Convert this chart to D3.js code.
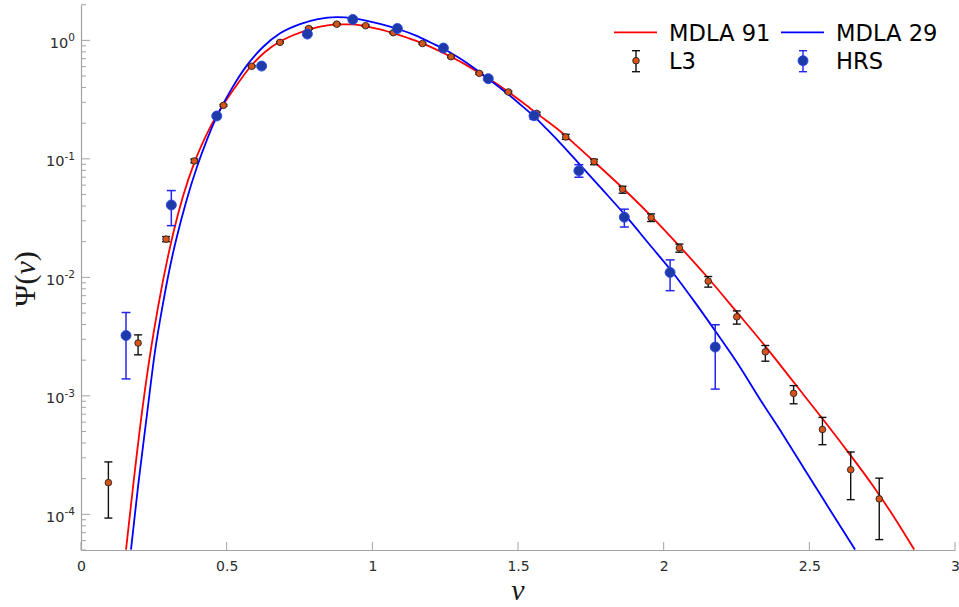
<!DOCTYPE html>
<html>
<head>
<meta charset="utf-8">
<script src="https://cdn.jsdelivr.net/npm/d3@7/dist/d3.min.js"></script>
<style>
  html, body { margin: 0; padding: 0; background: #fff; }
  svg { display: block; }
</style>
</head>
<body>
<svg id="chart" width="959" height="607"></svg>
<script>
// ---------------- data ----------------
const mdla91Nu  = [0.1545,0.1785,0.2104,0.2344,0.2653,0.2986,0.3168,0.3501,0.3890,0.4359,0.4884,0.532,0.5801,0.6316,0.6833,0.73,0.786,0.83,0.878,0.93,0.977,1.026,1.08,1.125,1.172,1.22,1.27,1.32,1.37,1.42,1.467,1.515,1.564,1.644,1.70,1.759,1.85,1.953,2.05,2.148,2.25,2.354,2.45,2.548,2.63,2.72,2.79,2.86];
const mdla91Psi = [5.04e-5,1.70e-4,7.66e-4,2.01e-3,5.77e-3,0.01503,0.02366,0.0483,0.0929,0.170,0.286,0.411,0.593,0.798,0.977,1.109,1.239,1.318,1.365,1.365,1.312,1.239,1.135,1.042,0.944,0.836,0.728,0.624,0.525,0.440,0.366,0.300,0.242,0.172,0.130,0.0959,0.0596,0.0337,0.0188,0.01016,0.00513,0.00253,0.00127,6.28e-4,3.43e-4,1.72e-4,9.55e-5,5.04e-5];

const mdla29Nu  = [0.1716,0.1957,0.2276,0.2523,0.2825,0.3124,0.3295,0.3604,0.3982,0.4325,0.4658,0.5149,0.5688,0.6247,0.6833,0.7517,0.8135,0.8777,0.9405,1.0263,1.0857,1.15,1.20,1.244,1.30,1.35,1.398,1.45,1.50,1.555,1.60,1.65,1.713,1.79,1.873,1.95,2.033,2.11,2.182,2.26,2.331,2.41,2.491,2.57,2.657];
const mdla29Psi = [5.04e-5,1.71e-4,7.34e-4,2.22e-3,6.21e-3,0.01469,0.0222,0.0431,0.0857,0.1455,0.227,0.382,0.612,0.879,1.146,1.371,1.514,1.570,1.528,1.380,1.253,1.096,0.959,0.851,0.705,0.581,0.474,0.378,0.299,0.228,0.177,0.132,0.0891,0.0550,0.0324,0.0191,0.01084,0.00603,0.00339,0.00178,9.33e-4,4.68e-4,2.24e-4,1.10e-4,5.04e-5];

const l3Nu   = [0.094,0.196,0.292,0.389,0.489,0.586,0.683,0.782,0.878,0.977,1.072,1.172,1.270,1.367,1.467,1.564,1.664,1.761,1.859,1.957,2.054,2.153,2.251,2.349,2.446,2.545,2.642,2.740];
const l3Psi  = [1.85e-4,2.79e-3,0.0210,0.0960,0.283,0.604,0.962,1.26,1.37,1.33,1.16,0.940,0.727,0.527,0.367,0.242,0.153,0.0947,0.0554,0.0319,0.0177,0.00929,0.00464,0.00235,1.05e-3,5.20e-4,2.38e-4,1.35e-4];
const l3Low  = [9.3e-5,2.22e-3,0.0200,0.0925,0.278,0.594,0.947,1.24,1.35,1.31,1.14,0.925,0.715,0.518,0.360,0.236,0.146,0.0893,0.0513,0.0296,0.0163,0.00827,0.00403,1.96e-3,8.57e-4,3.87e-4,1.33e-4,6.12e-5];
const l3High = [2.77e-4,3.27e-3,0.0221,0.0997,0.288,0.614,0.977,1.28,1.39,1.35,1.18,0.955,0.739,0.536,0.374,0.248,0.161,0.0993,0.0587,0.0343,0.0191,0.01016,0.00521,2.66e-3,1.22e-3,6.58e-4,3.36e-4,2.02e-4];

const hrsNu   = [0.1545,0.310,0.466,0.620,0.777,0.933,1.086,1.244,1.398,1.555,1.709,1.865,2.022,2.177];
const hrsPsi  = [3.23e-3,0.0408,0.230,0.607,1.13,1.50,1.26,0.861,0.475,0.231,0.0795,0.0322,0.0110,2.58e-3];
const hrsLow  = [1.39e-3,0.0273,0.224,0.595,1.11,1.47,1.235,0.845,0.463,0.216,0.0700,0.0266,0.00772,1.14e-3];
const hrsHigh = [5.05e-3,0.0540,0.236,0.619,1.15,1.53,1.285,0.877,0.487,0.246,0.0893,0.0376,0.01404,3.98e-3];

const xTicks = [0, 0.5, 1, 1.5, 2, 2.5, 3];
const xTickLabels = ["0", "0.5", "1", "1.5", "2", "2.5", "3"];
const yMajor = [1e-4, 1e-3, 1e-2, 1e-1, 1];
const yExponents = ["-4", "-3", "-2", "-1", "0"];
const legendNames = ["MDLA 91", "MDLA 29", "L3", "HRS"];

// ---------------- layout ----------------
const svg = d3.select("#chart");
const L = 81, R = 955, T = 4.7, B = 550;
const x = d3.scaleLinear().domain([0, 3]).range([L, R]);
const y = d3.scaleLog().domain([5e-5, 2]).range([B, T]);

const axisColor = "#a3a3a3";
const labelColor = "#2b2b2b";
const RED = "#ff0000", BLUE = "#0000ff";
const L3_FILL = "#d95319", HRS_FILL = "#1d3aa8", HRS_BAR = "#2424f0";

svg.append("defs").append("clipPath").attr("id", "plotclip")
  .append("rect").attr("x", L).attr("y", T).attr("width", R - L).attr("height", B - T);

// ---------------- axes ----------------
const xAxis = d3.axisBottom(x).tickValues(xTicks).tickSize(0).tickFormat((d, i) => xTickLabels[i]);
const gx = svg.append("g").attr("transform", `translate(0,${B})`).call(xAxis);
gx.select(".domain").attr("stroke", axisColor).attr("stroke-width", 1.2);
gx.selectAll(".tick text").attr("fill", labelColor).attr("font-family", "DejaVu Sans")
  .attr("font-size", 14).attr("dy", 0).attr("y", 21);
// inward x ticks
svg.append("g").selectAll("line").data(xTicks).join("line")
  .attr("x1", d => x(d)).attr("x2", d => x(d)).attr("y1", B).attr("y2", B - 8)
  .attr("stroke", axisColor).attr("stroke-width", 1);

// y axis spine
const yAxis = d3.axisLeft(y).tickValues([]).tickSize(0);
const gy = svg.append("g").attr("transform", `translate(${L},0)`).call(yAxis);
gy.select(".domain").attr("stroke", axisColor).attr("stroke-width", 1.2);

// minor + major log ticks (inward)
const minor = [];
for (let e = -5; e <= 0; e++) for (let m = 2; m <= 9; m++) {
  const v = m * Math.pow(10, e);
  if (v >= 5e-5 * 0.999 && v <= 2.0001) minor.push(v);
}
svg.append("g").selectAll("line").data(minor).join("line")
  .attr("x1", L).attr("x2", L + 5).attr("y1", d => y(d)).attr("y2", d => y(d))
  .attr("stroke", axisColor).attr("stroke-width", 1);
svg.append("g").selectAll("line").data(yMajor).join("line")
  .attr("x1", L).attr("x2", L + 9).attr("y1", d => y(d)).attr("y2", d => y(d))
  .attr("stroke", axisColor).attr("stroke-width", 1);

const yl = svg.append("g").selectAll("text").data(yMajor).join("text")
  .attr("x", L - 6).attr("y", d => y(d) + 7.5)
  .attr("text-anchor", "end").attr("fill", labelColor)
  .attr("font-family", "DejaVu Sans").attr("font-size", 14.5);
yl.append("tspan").text("10");
yl.append("tspan").attr("font-size", 10.5).attr("dy", -6.5).text((d, i) => yExponents[i]);

// axis titles
svg.append("text").attr("transform", "translate(35,279) rotate(-90)")
  .attr("text-anchor", "middle").attr("font-family", "Liberation Serif").attr("font-size", 30)
  .attr("fill", "#1a1a1a")
  .call(t => {
    t.append("tspan").text("Ψ(");
    t.append("tspan").attr("font-style", "italic").text("ν");
    t.append("tspan").text(")");
  });
svg.append("text").attr("x", x(1.5)).attr("y", 600).attr("text-anchor", "middle")
  .attr("font-family", "Liberation Serif").attr("font-style", "italic").attr("font-size", 30)
  .attr("fill", "#1a1a1a").text("ν");

// ---------------- curves ----------------
const plot = svg.append("g").attr("clip-path", "url(#plotclip)");
const line = d3.line().x(d => x(d[0])).y(d => y(d[1])).curve(d3.curveMonotoneX);
plot.append("path").datum(d3.zip(mdla91Nu, mdla91Psi)).attr("d", line)
  .attr("fill", "none").attr("stroke", RED).attr("stroke-width", 1.8);
plot.append("path").datum(d3.zip(mdla29Nu, mdla29Psi)).attr("d", line)
  .attr("fill", "none").attr("stroke", BLUE).attr("stroke-width", 1.8);

// ---------------- error bars ----------------
function errorSeries(nu, psi, lo, hi, barColor, fill, stroke, r, cap, bw) {
  const g = svg.append("g");
  const data = nu.map((n, i) => ({ n, p: psi[i], lo: lo[i], hi: hi[i] }));
  const eb = g.selectAll("g.eb").data(data).join("g");
  eb.append("line").attr("x1", d => x(d.n)).attr("x2", d => x(d.n))
    .attr("y1", d => y(d.lo)).attr("y2", d => y(d.hi)).attr("stroke", barColor).attr("stroke-width", bw);
  eb.append("line").attr("x1", d => x(d.n) - cap).attr("x2", d => x(d.n) + cap)
    .attr("y1", d => y(d.lo)).attr("y2", d => y(d.lo)).attr("stroke", barColor).attr("stroke-width", bw);
  eb.append("line").attr("x1", d => x(d.n) - cap).attr("x2", d => x(d.n) + cap)
    .attr("y1", d => y(d.hi)).attr("y2", d => y(d.hi)).attr("stroke", barColor).attr("stroke-width", bw);
  g.selectAll("circle").data(data).join("circle")
    .attr("cx", d => x(d.n)).attr("cy", d => y(d.p)).attr("r", r)
    .attr("fill", fill).attr("stroke", stroke).attr("stroke-width", 0.9);
}
errorSeries(l3Nu, l3Psi, l3Low, l3High, "#111", L3_FILL, "#222", 3.3, 4, 1.4);
errorSeries(hrsNu, hrsPsi, hrsLow, hrsHigh, HRS_BAR, HRS_FILL, "#2a48e8", 5, 4.5, 1.5);

// ---------------- legend ----------------
const lg = svg.append("g").attr("font-family", "DejaVu Sans").attr("font-size", 22.6).attr("fill", "#000");
lg.append("line").attr("x1", 614).attr("x2", 657).attr("y1", 32.3).attr("y2", 32.3).attr("stroke", RED).attr("stroke-width", 1.8);
lg.append("text").attr("x", 669).attr("y", 40.7).text(legendNames[0]);
lg.append("line").attr("x1", 781).attr("x2", 824).attr("y1", 32.3).attr("y2", 32.3).attr("stroke", BLUE).attr("stroke-width", 1.8);
lg.append("text").attr("x", 836).attr("y", 40.7).text(legendNames[1]);
function legendMarker(cx, barColor, fill, stroke, r) {
  lg.append("line").attr("x1", cx).attr("x2", cx).attr("y1", 50.7).attr("y2", 71.7).attr("stroke", barColor).attr("stroke-width", 1.4);
  lg.append("line").attr("x1", cx - 4).attr("x2", cx + 4).attr("y1", 50.7).attr("y2", 50.7).attr("stroke", barColor).attr("stroke-width", 1.4);
  lg.append("line").attr("x1", cx - 4).attr("x2", cx + 4).attr("y1", 71.7).attr("y2", 71.7).attr("stroke", barColor).attr("stroke-width", 1.4);
  lg.append("circle").attr("cx", cx).attr("cy", 60.7).attr("r", r).attr("fill", fill).attr("stroke", stroke).attr("stroke-width", 0.9);
}
legendMarker(636, "#111", L3_FILL, "#222", 3.3);
lg.append("text").attr("x", 669).attr("y", 69.3).text(legendNames[2]);
legendMarker(803, HRS_BAR, HRS_FILL, "#2a48e8", 5);
lg.append("text").attr("x", 836).attr("y", 69.3).text(legendNames[3]);
</script>
</body>
</html>
